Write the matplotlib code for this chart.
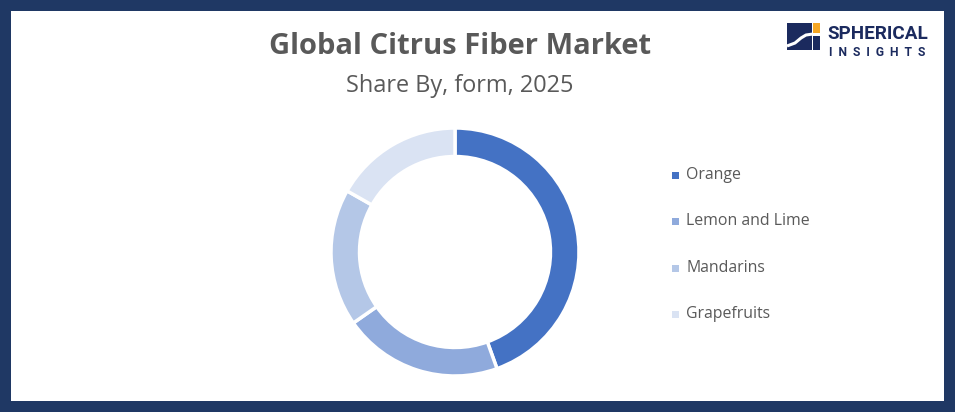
import matplotlib
matplotlib.use("Agg")
import matplotlib.pyplot as plt
from matplotlib.patches import Rectangle
from matplotlib.lines import Line2D

categories = ["Orange", "Lemon and Lime", "Mandarins", "Grapefruits"]
shares = [44.5, 20.8, 17.9, 16.8]
colors = ["#4472C4", "#8FAADC", "#B4C7E7", "#DAE3F3"]
title = "Global Citrus Fiber Market"
subtitle = "Share By, form, 2025"

W, H = 955, 412
fig = plt.figure(figsize=(W / 100, H / 100), dpi=100)
fig.patch.set_facecolor("#1F3864")

# white inner panel
bg = fig.add_axes([11 / W, 11 / H, (944 - 11) / W, (401 - 11) / H])
bg.set_facecolor("white")
bg.set_xticks([]); bg.set_yticks([])
for s in bg.spines.values():
    s.set_visible(False)

font = "Open Sans"
grey = "#595959"
fig.text(460 / W, 1 - 47 / H, title, ha="center", va="center", fontsize=21,
         fontweight="bold", color=grey, family=font)
fig.text(460 / W, 1 - 86 / H, subtitle, ha="center", va="center", fontsize=16.9,
         color=grey, family=font)

# donut
cx, cy, r = 455, 252, 124
ax = fig.add_axes([(cx - r) / W, 1 - (cy + r) / H, 2 * r / W, 2 * r / H])
ax.pie(shares, colors=colors, startangle=90, counterclock=False,
       wedgeprops=dict(width=0.23, edgecolor="white", linewidth=2.5))
ax.set_aspect("equal")
ax.set_xlim(-1, 1); ax.set_ylim(-1, 1)

# legend
ys = [175, 221, 268, 314]
for cat, col, y in zip(categories, colors, ys):
    fig.patches.append(Rectangle((672 / W, 1 - (y + 3.5) / H), 7 / W, 7 / H,
                                 transform=fig.transFigure, facecolor=col,
                                 edgecolor="none"))
    fig.text(686 / W, 1 - y / H, cat, ha="left", va="center", fontsize=11.4,
             color=grey, family=font)

# logo
navy = "#1B2A5E"
def px(x, y):
    return (x / W, 1 - y / H)
fig.patches.append(Rectangle(px(787, 50), 25 / W, 27 / H, transform=fig.transFigure,
                             facecolor=navy, edgecolor="none"))
fig.patches.append(Rectangle(px(813, 33), 7 / W, 10 / H, transform=fig.transFigure,
                             facecolor="#F5A623", edgecolor="none"))
fig.patches.append(Rectangle(px(813, 50), 7 / W, 14 / H, transform=fig.transFigure,
                             facecolor=navy, edgecolor="none"))
xs = [787, 795, 801, 806, 813]
ysl = [46, 43, 38, 35, 34]
fig.lines.append(Line2D([x / W for x in xs], [1 - y / H for y in ysl],
                        transform=fig.transFigure, color="white", linewidth=2.2,
                        solid_capstyle="butt"))
fig.text(827 / W, 1 - 34 / H, "SPHERICAL", ha="left", va="center", fontsize=13.6,
         fontweight="bold", color=navy, family="Roboto")
fig.text(829 / W, 1 - 52 / H, "I  N  S  I  G  H  T  S", ha="left", va="center",
         fontsize=8.7, fontweight="bold", color=navy, family="Roboto")

fig.savefig("out.png", dpi=100, facecolor=fig.get_facecolor())
